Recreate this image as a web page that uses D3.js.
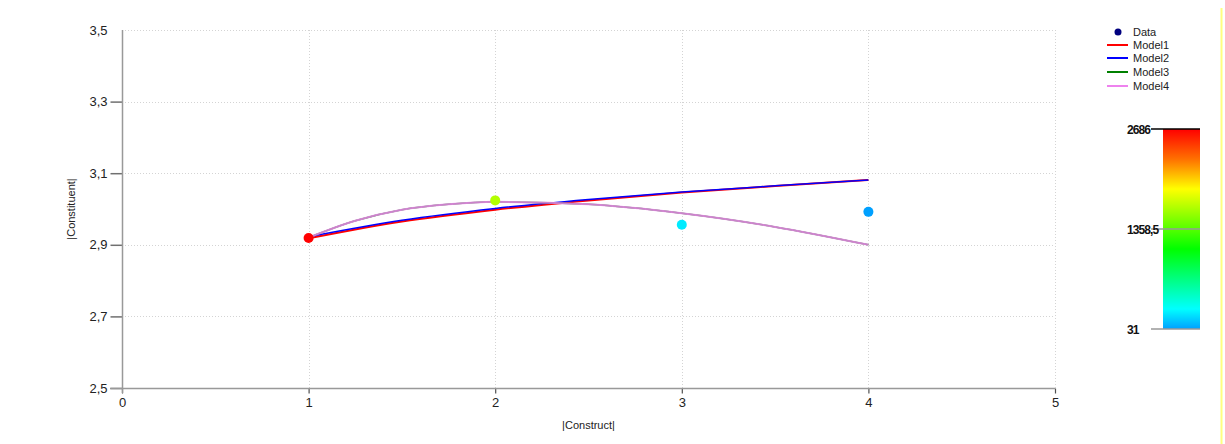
<!DOCTYPE html>
<html><head><meta charset="utf-8">
<script src="https://cdn.jsdelivr.net/npm/d3@7"></script>
<style>body{margin:0;background:#fff;}svg{display:block;font-family:"Liberation Sans",Arial,sans-serif;}</style>
</head><body><svg id="c" width="1225" height="444"></svg>
<script>
// ---- data ----
const xTicks = [0, 1, 2, 3, 4, 5];
const yTicks = [2.5, 2.7, 2.9, 3.1, 3.3, 3.5];
const dataX = [1, 2, 3, 4];
const dataY = [2.919, 3.024, 2.956, 2.992];
const dataColorValue = [2686, 1650, 240, 31];
const logX = [1, 1.5, 2, 2.5, 3, 3.5, 4];
const model1 = [2.918, 2.965, 2.998, 3.024, 3.046, 3.064, 3.081];
const model2 = [2.921, 2.967, 3.000, 3.025, 3.046, 3.063, 3.079];
const quadX = [1, 1.25, 1.5, 1.75, 2, 2.5, 3, 3.5, 4];
const model3 = [2.920, 2.967, 2.998, 3.013, 3.020, 3.013, 2.988, 2.950, 2.900];
const model4 = [2.920, 2.967, 2.998, 3.013, 3.020, 3.013, 2.988, 2.950, 2.900];
const legendNames = ["Data", "Model1", "Model2", "Model3", "Model4"];
const colorbarTicks = [31, 1358.5, 2686];
const gradStops = [[0, "#00a0ff"], [0.10, "#00ffff"], [0.25, "#00ff80"], [0.40, "#00ff00"], [0.55, "#80ff00"], [0.70, "#ffff00"], [0.85, "#ff7000"], [1, "#ff0000"]];

const svg = d3.select("#c");
const L = 122, R = 1055, T = 30, B = 388;
const x = d3.scaleLinear().domain([0, 5]).range([L, R]);
const y = d3.scaleLinear().domain([2.5, 3.5]).range([B, T]);
const fmt = v => d3.format(".1f")(v).replace(".", ",");

// gridlines
const grid = svg.append("g").attr("stroke", "#d4d4d4").attr("stroke-dasharray", "1,2").attr("stroke-width", 1);
yTicks.filter(v => v > 2.5).forEach(v => grid.append("line").attr("x1", L).attr("x2", R).attr("y1", Math.round(y(v)) + 0.5).attr("y2", Math.round(y(v)) + 0.5));
xTicks.filter(v => v > 0).forEach(v => grid.append("line").attr("y1", T).attr("y2", B).attr("x1", Math.round(x(v)) + 0.5).attr("x2", Math.round(x(v)) + 0.5));

// axes
const yAxis = d3.axisLeft(y).tickValues(yTicks).tickSize(12).tickPadding(3).tickFormat(fmt);
const gy = svg.append("g").attr("transform", `translate(${L + 0.5},0)`).call(yAxis);
gy.select(".domain").remove();
gy.selectAll(".tick line").attr("stroke", "#707070").attr("stroke-width", 1.5).filter(d => d === 3.5).remove();
gy.selectAll(".tick text").attr("font-size", 13).attr("fill", "#222").attr("font-family", "Liberation Sans, Arial, sans-serif");

const xAxis = d3.axisBottom(x).tickValues(xTicks).tickSize(5).tickPadding(4).tickFormat(d3.format("d"));
const gx = svg.append("g").attr("transform", `translate(0,${B + 0.5})`).call(xAxis);
gx.select(".domain").remove();
gx.selectAll(".tick line").attr("stroke", "#505050").attr("stroke-width", 1.2);
gx.selectAll(".tick text").attr("font-size", 13).attr("fill", "#222").attr("font-family", "Liberation Sans, Arial, sans-serif");

svg.append("line").attr("x1", L + 0.5).attr("x2", L + 0.5).attr("y1", T).attr("y2", B + 5).attr("stroke", "#999").attr("stroke-width", 1.5);
svg.append("line").attr("x1", L - 12).attr("x2", R).attr("y1", B + 0.5).attr("y2", B + 0.5).attr("stroke", "#999").attr("stroke-width", 1.5);

// axis titles
svg.append("text").attr("x", (L + R) / 2).attr("y", 429).attr("text-anchor", "middle").attr("font-size", 11).attr("fill", "#222").text("|Construct|");
svg.append("text").attr("transform", `translate(75,${(T + B) / 2}) rotate(-90)`).attr("text-anchor", "middle").attr("font-size", 11).attr("fill", "#222").text("|Constituent|");

// model lines
const line = (xs) => d3.line().x((d, i) => x(xs[i])).y(d => y(d)).curve(d3.curveMonotoneX);
svg.append("path").attr("d", line(logX)(model1)).attr("fill", "none").attr("stroke", "#ff0000").attr("stroke-width", 2);
svg.append("path").attr("d", line(logX)(model2)).attr("fill", "none").attr("stroke", "#0000ff").attr("stroke-width", 1.5).attr("transform", "translate(0,-0.6)");
svg.append("path").attr("d", line(quadX)(model3)).attr("fill", "none").attr("stroke", "#008000").attr("stroke-width", 1.5);
svg.append("path").attr("d", line(quadX)(model4)).attr("fill", "none").attr("stroke", "#ee82ee").attr("stroke-width", 2).attr("opacity", 0.85);

// colour scale
const cdom = d3.extent(colorbarTicks);
const color = d3.scaleLinear().domain(gradStops.map(s => cdom[0] + s[0] * (cdom[1] - cdom[0]))).range(gradStops.map(s => s[1]));

svg.append("g").selectAll("circle").data(dataX).join("circle")
  .attr("cx", d => x(d)).attr("cy", (d, i) => y(dataY[i])).attr("r", 5)
  .attr("fill", (d, i) => color(dataColorValue[i]));

// legend
const lg = svg.append("g").attr("font-size", 11).attr("fill", "#222");
const legColors = [null, "#ff0000", "#0000ff", "#008000", "#ee82ee"];
const legY = [32, 45, 58, 72, 86];
legendNames.forEach((n, i) => {
  if (i === 0) lg.append("circle").attr("cx", 1118).attr("cy", legY[i]).attr("r", 3.5).attr("fill", "#00007f");
  else lg.append("line").attr("x1", 1107).attr("x2", 1128).attr("y1", legY[i]).attr("y2", legY[i]).attr("stroke", legColors[i]).attr("stroke-width", 2);
  lg.append("text").attr("x", 1133).attr("y", legY[i] + 4).text(n);
});

// colour bar
const cbX = 1163, cbW = 37, cbT = 129, cbB = 329;
const defs = svg.append("defs");
const grad = defs.append("linearGradient").attr("id", "cb").attr("x1", 0).attr("x2", 0).attr("y1", 1).attr("y2", 0);
gradStops.forEach(s => grad.append("stop").attr("offset", s[0]).attr("stop-color", s[1]));
svg.append("rect").attr("x", cbX).attr("y", cbT).attr("width", cbW).attr("height", cbB - cbT).attr("fill", "url(#cb)");
const cy = d3.scaleLinear().domain(cdom).range([cbB, cbT]);
colorbarTicks.forEach((v, i) => {
  svg.append("line").attr("x1", 1151).attr("x2", cbX + cbW).attr("y1", cy(v)).attr("y2", cy(v))
    .attr("stroke", i === 2 ? "#000" : "#999").attr("stroke-width", 1.5);
  svg.append("text").attr("x", 1127).attr("y", cy(v) + 4.5).attr("font-size", 12).attr("font-weight", "bold")
    .attr("letter-spacing", -0.9).attr("fill", "#111").text(String(v).replace(".", ","));
});

// right edge line
svg.append("line").attr("x1", 1221.5).attr("x2", 1221.5).attr("y1", 8).attr("y2", 444).attr("stroke", "#ffff80").attr("stroke-width", 2);
</script></body></html>
